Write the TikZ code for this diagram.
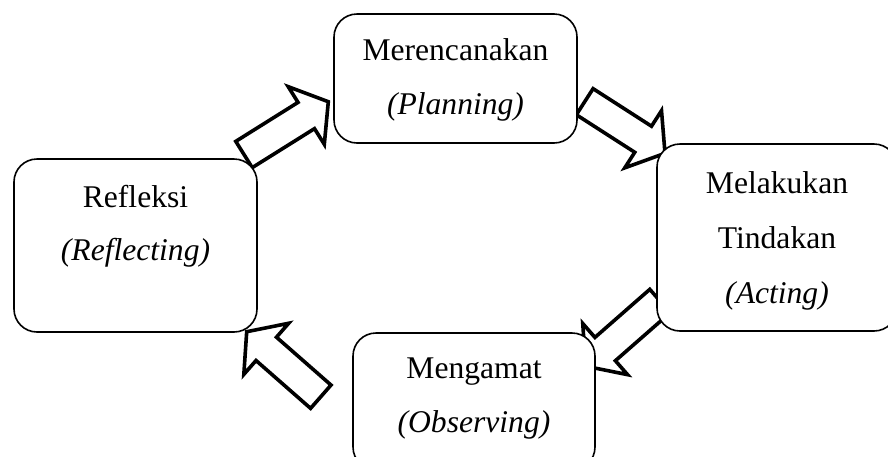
\documentclass[tikz,border=0pt]{standalone}
\usepackage{fontspec}
\setmainfont{Liberation Serif}
\usetikzlibrary{calc}
\pgfdeclarelayer{background}
\pgfsetlayers{background,main}

\tikzset{
  stage/.style={draw, line width=1.6pt, fill=white, rounded corners=23pt,
                inner sep=0pt, outer sep=0pt},
  caption/.style={anchor=base, inner sep=0pt, font=\fontsize{31.6}{38}\selectfont},
  fatarrow/.style={draw, line width=3.6pt, fill=white, line join=miter, miter limit=10},
}

% hollow block arrow from #1 (tail centre) to #2 (tip)
\newcommand\shafthw{15.5pt}
\newcommand\headhw{34pt}
\newcommand\headlen{26pt}
\newcommand\blockarrow[2]{%
  \coordinate (#1-base) at ($(#2)!\headlen!(#1)$);
  \draw[fatarrow]
    ($(#1)!\shafthw!90:(#2)$) --
    ($(#1-base)!\shafthw!-90:(#1)$) --
    ($(#1-base)!\headhw!-90:(#1)$) --
    (#2) --
    ($(#1-base)!\headhw!90:(#1)$) --
    ($(#1-base)!\shafthw!90:(#1)$) --
    ($(#1)!\shafthw!-90:(#2)$) -- cycle;}

\begin{document}
\begin{tikzpicture}[x=1pt, y=1pt]
  \useasboundingbox (0,0) rectangle (888,-456);
  \clip (0,0) rectangle (888,-456);

  % the four stages of the cycle
  \node[stage, minimum width=243, minimum height=129] (plan) at (455.5,-78.5) {};
  \node[stage, minimum width=240, minimum height=187] (act)  at (777,-237.5) {};
  \node[stage, minimum width=242, minimum height=137] (obs)  at (474,-401.5) {};
  \node[stage, minimum width=243, minimum height=173] (refl) at (135.5,-245.5) {};

  \node[caption] (plan-a) at (455.5,-60.5) {Merencanakan};
  \node[caption] (plan-b) at (455.5,-114)  {\textit{(Planning)}};

  \node[caption] (act-a) at (777,-193) {Melakukan};
  \node[caption] (act-b) at (777,-248) {Tindakan};
  \node[caption] (act-c) at (777,-303) {\textit{(Acting)}};

  \node[caption] (obs-a) at (474,-378) {Mengamat};
  \node[caption] (obs-b) at (474,-432) {\textit{(Observing)}};

  \node[caption] (refl-a) at (135.5,-207) {Refleksi};
  \node[caption] (refl-b) at (135.5,-260) {\textit{(Reflecting)}};

  % end points of the arrows between the stages
  \coordinate (refl-out) at (244,-154.5);
  \coordinate (plan-in)  at (328.3,-101.7);
  \coordinate (plan-out) at (584.7,-101.7);
  \coordinate (act-in)   at (665,-153.3);
  \coordinate (act-out)  at (660,-301);
  \coordinate (obs-in)   at (585.6,-366.2);
  \coordinate (obs-out)  at (320.8,-396.7);
  \coordinate (refl-in)  at (246.7,-331.7);

  \begin{pgfonlayer}{background}
    \blockarrow{refl-out}{plan-in}
    \blockarrow{plan-out}{act-in}
    \blockarrow{act-out}{obs-in}
    \blockarrow{obs-out}{refl-in}
  \end{pgfonlayer}
\end{tikzpicture}
\end{document}
